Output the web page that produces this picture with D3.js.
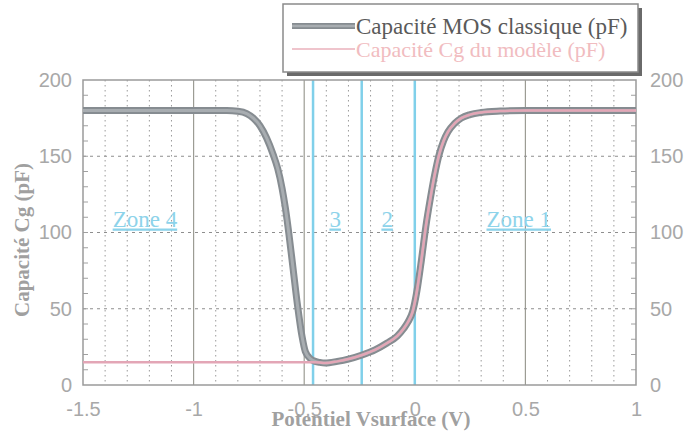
<!DOCTYPE html>
<html>
<head>
<meta charset="utf-8">
<script src="https://cdn.jsdelivr.net/npm/d3@7"></script>
<style>
  html, body { margin: 0; padding: 0; background: #fff; }
  svg { display: block; }
</style>
</head>
<body>
<svg id="chart" width="684" height="438"></svg>
<script>
// Surface potential (V) and measured classic MOS capacitance (pF)
const vClassic = [-1.5, -1.0, -0.85, -0.8, -0.76, -0.73, -0.70, -0.67, -0.64, -0.62, -0.60, -0.585, -0.57, -0.55, -0.53, -0.51, -0.495, -0.47, -0.45, -0.43, -0.405, -0.35, -0.30, -0.238, -0.18, -0.125, -0.08, -0.05, -0.03, -0.01, 0.01, 0.03, 0.05, 0.07, 0.09, 0.11, 0.13, 0.15, 0.18, 0.21, 0.25, 0.30, 0.386, 0.5, 1.0];
const cClassic = [180, 180, 180, 179.5, 178, 175, 170, 162, 151, 142, 129, 116, 100, 76, 52, 32, 22, 17, 15.5, 14.8, 14.4, 15.5, 17, 19.7, 23, 27.5, 32, 37, 41.5, 48, 62, 82, 104, 122, 138, 151, 160, 166, 171.5, 175, 177.3, 178.7, 179.6, 180, 180];

// Model gate capacitance Cg (pF)
const vModel = [-1.5, -0.46, -0.43, -0.405, -0.35, -0.30, -0.238, -0.18, -0.125, -0.08, -0.05, -0.03, -0.01, 0.01, 0.03, 0.05, 0.07, 0.09, 0.11, 0.13, 0.15, 0.18, 0.21, 0.25, 0.30, 0.386, 0.5, 1.0];
const cModel = [15, 15, 14.8, 14.4, 15.5, 17, 19.7, 23, 27.5, 32, 37, 41.5, 48, 62, 82, 104, 122, 138, 151, 160, 166, 171.5, 175, 177.3, 178.7, 179.6, 180, 180];

// Zone boundaries (V) and zone labels
const zoneBounds = [-0.46, -0.24, 0];
const zoneLabels = ["Zone 4", "3", "2", "Zone 1"];
const zoneLabelV = [-1.22, -0.36, -0.125, 0.47];
const zoneLabelC = [100, 100, 100, 100];

const xTicks = [-1.5, -1, -0.5, 0, 0.5, 1];
const yTicks = [0, 50, 100, 150, 200];

const seriesNames = ["Capacité MOS classique (pF)", "Capacité Cg du modèle (pF)"];

const svg = d3.select("#chart");
const x = d3.scaleLinear().domain([-1.5, 1]).range([83, 636]);
const y = d3.scaleLinear().domain([0, 200]).range([385, 80]);

const gridCol = "#a0a0a0";
const textCol = "#a8a8a8";

// Minor vertical dotted grid every 0.1 V
const minorX = d3.range(-14, 10).map(i => +(i / 10).toFixed(1)).filter(v => Math.abs(v * 2 - Math.round(v * 2)) > 1e-6);
svg.append("g").selectAll("line").data(minorX).join("line")
  .attr("x1", d => x(d)).attr("x2", d => x(d))
  .attr("y1", y(200)).attr("y2", y(0))
  .attr("stroke", "#9a9a9a").attr("stroke-width", 1)
  .attr("stroke-dasharray", "1.5,3.5");

// Major vertical grid lines
svg.append("g").selectAll("line").data([-1, -0.5, 0.5]).join("line")
  .attr("x1", d => x(d)).attr("x2", d => x(d))
  .attr("y1", y(200)).attr("y2", y(0))
  .attr("stroke", "#9c9c94").attr("stroke-width", 1.2);

// Horizontal dashed grid lines
svg.append("g").selectAll("line").data([50, 100, 150]).join("line")
  .attr("x1", x(-1.5)).attr("x2", x(1))
  .attr("y1", d => y(d)).attr("y2", d => y(d))
  .attr("stroke", "#8e8e8e").attr("stroke-width", 1.2)
  .attr("stroke-dasharray", "3,4");

// Minor ticks on left and right edges every 10 pF
const minorY = d3.range(10, 200, 10);
svg.append("g").selectAll("line").data(minorY).join("line")
  .attr("x1", x(-1.5)).attr("x2", x(-1.5) + 5)
  .attr("y1", d => y(d)).attr("y2", d => y(d))
  .attr("stroke", gridCol).attr("stroke-width", 1);
svg.append("g").selectAll("line").data(minorY).join("line")
  .attr("x1", x(1) - 5).attr("x2", x(1))
  .attr("y1", d => y(d)).attr("y2", d => y(d))
  .attr("stroke", gridCol).attr("stroke-width", 1);

// Zone boundary lines
svg.append("g").selectAll("line").data(zoneBounds).join("line")
  .attr("x1", d => x(d)).attr("x2", d => x(d))
  .attr("y1", y(200)).attr("y2", y(0))
  .attr("stroke", "#80d0ea").attr("stroke-width", 2.5);

// Plot frame
svg.append("rect")
  .attr("x", x(-1.5)).attr("y", y(200))
  .attr("width", x(1) - x(-1.5)).attr("height", y(0) - y(200))
  .attr("fill", "none").attr("stroke", "#9a9a9a").attr("stroke-width", 1.5);

// Zone labels
const zl = svg.append("g");
zoneLabels.forEach((t, i) => {
  zl.append("text")
    .attr("x", x(zoneLabelV[i])).attr("y", y(zoneLabelC[i]) - 6)
    .attr("text-anchor", "middle")
    .attr("font-family", "Liberation Serif, serif")
    .attr("font-size", 23)
    .attr("fill", "#8dd3ea")
    .attr("text-decoration", "underline")
    .text(t);
});

// Curves
const line = d3.line().x(d => x(d[0])).y(d => y(d[1])).curve(d3.curveMonotoneX);
const classicPts = vClassic.map((v, i) => [v, cClassic[i]]);
const modelPts = vModel.map((v, i) => [v, cModel[i]]);

svg.append("path").datum(classicPts).attr("d", line)
  .attr("fill", "none").attr("stroke", "#868c91").attr("stroke-width", 7)
  .attr("stroke-linejoin", "round");
svg.append("path").datum(classicPts).attr("d", line)
  .attr("fill", "none").attr("stroke", "#a8adb1").attr("stroke-width", 3)
  .attr("stroke-linejoin", "round");
svg.append("path").datum(modelPts).attr("d", line)
  .attr("fill", "none").attr("stroke", "#e3a6b6").attr("stroke-width", 2.5)
  .attr("stroke-linejoin", "round");

// Axes
const styleAxis = g => {
  g.select(".domain").remove();
  g.selectAll("text")
    .attr("font-family", "Liberation Sans, Arial, sans-serif")
    .attr("font-size", 20)
    .attr("fill", textCol);
};

svg.append("g").attr("transform", `translate(${x(-1.5)},0)`)
  .call(d3.axisLeft(y).tickValues(yTicks).tickSize(0).tickPadding(11))
  .call(styleAxis);
svg.append("g").attr("transform", `translate(${x(1)},0)`)
  .call(d3.axisRight(y).tickValues(yTicks).tickSize(0).tickPadding(14))
  .call(styleAxis);
svg.append("g").attr("transform", `translate(0,${y(0)})`)
  .call(d3.axisBottom(x).tickValues(xTicks).tickSize(0).tickPadding(17).tickFormat(d => String(d)))
  .call(styleAxis);

// Axis titles
svg.append("text")
  .attr("transform", `translate(29,${240}) rotate(-90)`)
  .attr("text-anchor", "middle")
  .attr("font-family", "Liberation Serif, serif")
  .attr("font-weight", "bold")
  .attr("font-size", 21)
  .attr("fill", "#a0a0a0")
  .text("Capacité Cg (pF)");
svg.append("text")
  .attr("x", 371).attr("y", 426)
  .attr("text-anchor", "middle")
  .attr("font-family", "Liberation Serif, serif")
  .attr("font-weight", "bold")
  .attr("font-size", 21)
  .attr("fill", "#a0a0a0")
  .text("Potentiel Vsurface (V)");

// Legend
const lg = svg.append("g");
lg.append("rect").attr("x", 287).attr("y", 8).attr("width", 355).attr("height", 68)
  .attr("fill", "#6a6a6a");
lg.append("rect").attr("x", 283).attr("y", 4).attr("width", 355).attr("height", 68)
  .attr("fill", "#fff").attr("stroke", "#8a8a8a").attr("stroke-width", 1.5);
lg.append("line").attr("x1", 292).attr("x2", 355).attr("y1", 26).attr("y2", 26)
  .attr("stroke", "#868c91").attr("stroke-width", 6);
lg.append("line").attr("x1", 292).attr("x2", 355).attr("y1", 26).attr("y2", 26)
  .attr("stroke", "#a8adb1").attr("stroke-width", 2.5);
lg.append("line").attr("x1", 292).attr("x2", 355).attr("y1", 49).attr("y2", 49)
  .attr("stroke", "#eab0bb").attr("stroke-width", 1.5);
lg.append("text").attr("x", 356).attr("y", 34)
  .attr("font-family", "Liberation Serif, serif").attr("font-size", 23)
  .attr("fill", "#5a5a5a").text(seriesNames[0]);
lg.append("text").attr("x", 356).attr("y", 57)
  .attr("font-family", "Liberation Serif, serif").attr("font-size", 22)
  .attr("fill", "#f1bcc0").text(seriesNames[1]);
</script>
</body>
</html>
